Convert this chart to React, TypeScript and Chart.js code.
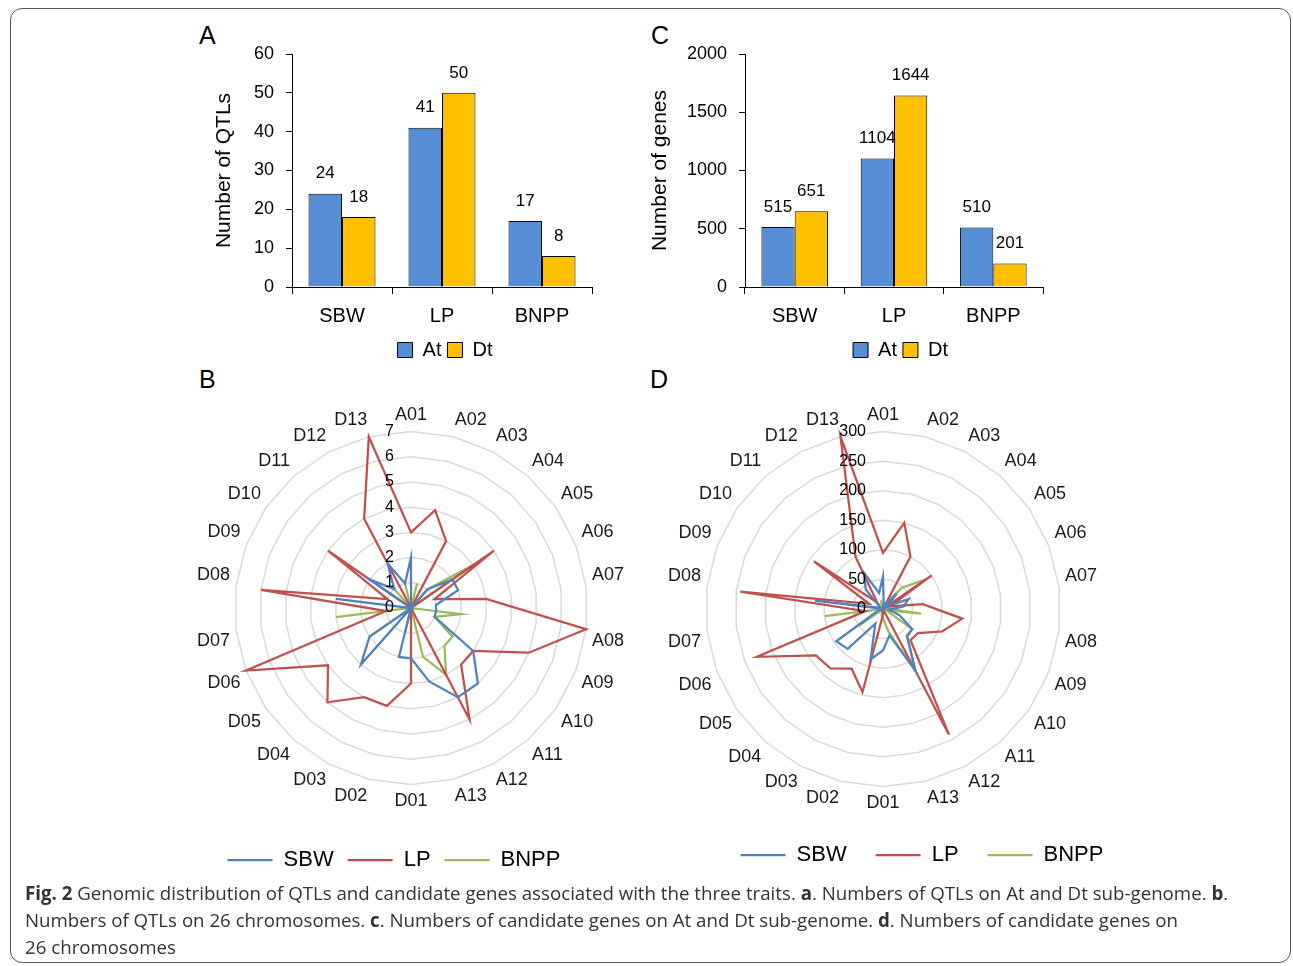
import React, { useEffect, useRef } from "react";
import { Chart, registerables } from "chart.js";

Chart.register(...registerables);
Chart.defaults.font.family = '"Liberation Sans", Arial, sans-serif';
Chart.defaults.color = "#000";

// ---------- data ----------
const traits = ["SBW", "LP", "BNPP"];
const qtlAt = [24, 41, 17];
const qtlDt = [18, 50, 8];
const geneAt = [515, 1104, 510];
const geneDt = [651, 1644, 201];

const chromosomes = [
  "A01", "A02", "A03", "A04", "A05", "A06", "A07", "A08", "A09", "A10", "A11", "A12", "A13",
  "D01", "D02", "D03", "D04", "D05", "D06", "D07", "D08", "D09", "D10", "D11", "D12", "D13",
];

const qtlSBW = [2, 0, 0, 1, 2, 2, 1, 1, 1, 3, 4, 4, 3, 2, 2, 0, 3, 2, 0, 0, 3, 0, 2, 1, 2, 1];
const qtlLP = [3, 4, 3, 0, 4, 1, 3, 7, 5, 3, 3, 5, 0, 3, 4, 4, 5, 4, 7, 1, 6, 1, 4, 0, 4, 7];
const qtlBNPP = [0, 1, 0, 1, 3, 0, 0, 2, 1, 2, 2, 3, 2, 0, 1, 0, 0, 2, 0, 3, 0, 0, 0, 1, 0, 1];

const geneSBW = [55, 5, 5, 35, 10, 46, 35, 10, 30, 60, 62, 117, 46, 70, 88, 28, 90, 96, 10, 0, 116, 5, 7, 44, 69, 28];
const geneLP = [95, 150, 100, 0, 100, 12, 68, 135, 107, 72, 70, 240, 0, 10, 145, 114, 134, 138, 228, 30, 243, 25, 142, 15, 100, 300];
const geneBNPP = [0, 5, 10, 48, 88, 5, 5, 65, 5, 60, 60, 120, 40, 16, 10, 0, 0, 49, 0, 99, 0, 0, 0, 12, 0, 15];

const FONT = '"Liberation Sans", Arial, sans-serif';

// ---------- plugins ----------
const barValuePlugin = {
  id: "barValues",
  afterDatasetsDraw(chart: any) {
    const { ctx } = chart;
    ctx.save();
    ctx.font = `17px ${FONT}`;
    ctx.fillStyle = "#000";
    ctx.textAlign = "center";
    ctx.textBaseline = "middle";
    chart.data.datasets.forEach((ds: any, di: number) => {
      chart.getDatasetMeta(di).data.forEach((el: any, i: number) => {
        ctx.fillText(String(ds.data[i]), el.x, el.y - 20);
      });
    });
    ctx.restore();
  },
};

const legendShiftPlugin = {
  id: "legendShift",
  afterLayout(chart: any, _args: any, opts: any) {
    const lg = chart.legend;
    if (!lg) return;
    const dx = (opts && opts.dx) || 0;
    const dy = (opts && opts.dy) || 0;
    lg.left += dx;
    lg.right += dx;
    lg.top += dy;
    lg.bottom += dy;
  },
};

const radarTickPlugin = {
  id: "radarTicks",
  afterDatasetsDraw(chart: any, _args: any, opts: any) {
    const s = chart.scales.r;
    const { ctx } = chart;
    ctx.save();
    ctx.font = `16px ${FONT}`;
    ctx.fillStyle = "#000";
    ctx.textAlign = "right";
    ctx.textBaseline = "middle";
    s.ticks.forEach((t: any) => {
      const d = s.getDistanceFromCenterForValue(t.value);
      ctx.fillText(String(t.value), s.xCenter - (opts.offset || 17), s.yCenter - d);
    });
    ctx.restore();
  },
};

// ---------- components ----------
type BarProps = {
  left: number; top: number; width: number; height: number;
  at: number[]; dt: number[]; max: number; step: number; title: string;
  padLeft: number; padRight: number; padTop: number; yWidth: number; xHeight: number;
  legendDx: number;
};

function BarPanel(p: BarProps) {
  const ref = useRef<HTMLCanvasElement>(null);
  useEffect(() => {
    const chart = new Chart(ref.current!, {
      type: "bar",
      data: {
        labels: traits,
        datasets: [
          { label: "At", data: p.at, backgroundColor: "#558ED5", borderColor: "#000", borderWidth: 1 },
          { label: "Dt", data: p.dt, backgroundColor: "#FFC000", borderColor: "#000", borderWidth: 1 },
        ],
      },
      options: {
        responsive: false,
        animation: false,
        devicePixelRatio: 1,
        layout: { padding: { left: p.padLeft, right: p.padRight, top: p.padTop, bottom: 0 } },
        datasets: { bar: { categoryPercentage: 0.67, barPercentage: 1 } },
        scales: {
          x: {
            grid: { display: true, drawOnChartArea: false, tickLength: 7, color: "#000", offset: true },
            border: { color: "#000", width: 1 },
            ticks: { font: { size: 20 }, color: "#000", padding: 10 },
            afterFit: (s: any) => { s.height = p.xHeight; },
          },
          y: {
            min: 0,
            max: p.max,
            ticks: {
              stepSize: p.step, font: { size: 18 }, color: "#000", padding: 12,
              callback: (v: any) => String(v),
            },
            grid: { drawOnChartArea: false, tickLength: 6, color: "#000" },
            border: { color: "#000", width: 1 },
            title: { display: true, text: p.title, font: { size: 21 }, color: "#000" },
            afterFit: (s: any) => { s.width = p.yWidth; },
          },
        },
        plugins: {
          legend: {
            position: "bottom",
            labels: { boxWidth: 15, boxHeight: 15, font: { size: 20 }, color: "#000", padding: 6 },
          },
          tooltip: { enabled: false },
          legendShift: { dx: p.legendDx, dy: 0 },
        } as any,
      },
      plugins: [barValuePlugin, legendShiftPlugin],
    });
    return () => chart.destroy();
  }, []);
  return (
    <canvas
      ref={ref}
      width={p.width}
      height={p.height}
      style={{ position: "absolute", left: p.left, top: p.top, width: p.width, height: p.height }}
    />
  );
}

type RadarProps = {
  left: number; top: number; width: number; height: number;
  sbw: number[]; lp: number[]; bnpp: number[]; max: number; step: number;
  padBottom: number; legendPad: number; legendDx: number; legendDy: number;
};

function RadarPanel(p: RadarProps) {
  const ref = useRef<HTMLCanvasElement>(null);
  useEffect(() => {
    const mk = (label: string, data: number[], color: string) => ({
      label, data, borderColor: color, backgroundColor: color, borderWidth: 2.25,
      pointRadius: 0, fill: false, tension: 0,
    });
    const chart = new Chart(ref.current!, {
      type: "radar",
      data: {
        labels: chromosomes,
        datasets: [
          mk("SBW", p.sbw, "#4F81BD"),
          mk("LP", p.lp, "#C0504D"),
          mk("BNPP", p.bnpp, "#9BBB59"),
        ],
      },
      options: {
        responsive: false,
        animation: false,
        devicePixelRatio: 1,
        layout: { padding: { left: 0, right: 0, top: 0, bottom: p.padBottom } },
        scales: {
          r: {
            min: 0,
            max: p.max,
            ticks: { display: false, stepSize: p.step },
            grid: { color: "#d9d9d9", lineWidth: 1.5 },
            angleLines: { display: false },
            pointLabels: { font: { size: 18 }, color: "#1a1a1a", padding: 6 },
          },
        },
        plugins: {
          legend: {
            position: "bottom",
            labels: {
              usePointStyle: true, pointStyle: "line", pointStyleWidth: 45,
              font: { size: 22 }, color: "#000", padding: p.legendPad,
            },
          },
          tooltip: { enabled: false },
          legendShift: { dx: p.legendDx, dy: p.legendDy },
          radarTicks: { offset: 17 },
        } as any,
      },
      plugins: [legendShiftPlugin, radarTickPlugin],
    });
    return () => chart.destroy();
  }, []);
  return (
    <canvas
      ref={ref}
      width={p.width}
      height={p.height}
      style={{ position: "absolute", left: p.left, top: p.top, width: p.width, height: p.height }}
    />
  );
}

const letterStyle: React.CSSProperties = {
  position: "absolute", fontFamily: FONT, fontSize: 25, lineHeight: "25px", color: "#000",
};

export default function App() {
  return (
    <div style={{ position: "absolute", left: 0, top: 0, width: 1293, height: 966, background: "#fff", overflow: "hidden" }}>
      <div
        style={{
          position: "absolute", left: 10, top: 8, width: 1279, height: 953,
          border: "1px solid #555", borderRadius: 12,
        }}
      />
      <div style={{ ...letterStyle, left: 199, top: 23 }}>A</div>
      <div style={{ ...letterStyle, left: 651, top: 23 }}>C</div>
      <div style={{ ...letterStyle, left: 199, top: 367 }}>B</div>
      <div style={{ ...letterStyle, left: 650, top: 367 }}>D</div>

      <BarPanel
        left={180} top={20} width={440} height={350}
        at={qtlAt} dt={qtlDt} max={60} step={10} title="Number of QTLs"
        padLeft={28} padRight={28} padTop={34} yWidth={84} xHeight={47} legendDx={45}
      />
      <BarPanel
        left={630} top={20} width={441} height={350}
        at={geneAt} dt={geneDt} max={2000} step={500} title="Number of genes"
        padLeft={14} padRight={28} padTop={34} yWidth={101} xHeight={47} legendDx={57}
      />

      <RadarPanel
        left={151} top={405} width={520} height={484}
        sbw={qtlSBW} lp={qtlLP} bnpp={qtlBNPP} max={7} step={1}
        padBottom={30} legendPad={14} legendDx={-17} legendDy={22}
      />
      <RadarPanel
        left={623} top={405} width={520} height={481}
        sbw={geneSBW} lp={geneLP} bnpp={geneBNPP} max={300} step={50}
        padBottom={10} legendPad={29} legendDx={39} legendDy={0}
      />

      <div
        style={{
          position: "absolute", left: 25, top: 879, width: 1260,
          fontFamily: '"Open Sans", sans-serif', fontSize: 18.7, lineHeight: "27px",
          color: "#333", whiteSpace: "nowrap",
        }}
      >
        <b>Fig. 2</b> Genomic distribution of QTLs and candidate genes associated with the three traits. <b>a</b>. Numbers of QTLs on At and Dt sub-genome. <b>b</b>.
        <br />
        Numbers of QTLs on 26 chromosomes. <b>c</b>. Numbers of candidate genes on At and Dt sub-genome. <b>d</b>. Numbers of candidate genes on
        <br />
        26 chromosomes
      </div>
    </div>
  );
}
